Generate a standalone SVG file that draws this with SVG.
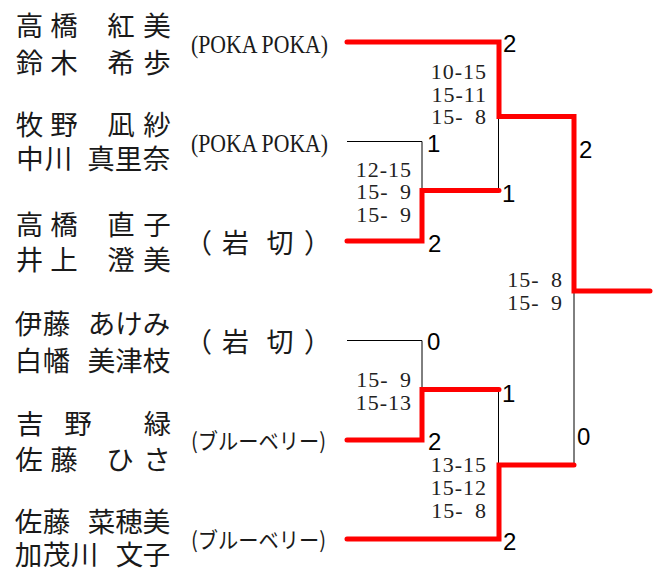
<svg xmlns="http://www.w3.org/2000/svg" width="661" height="573" viewBox="0 0 661 573">
<style>
.nm{font-family:"Noto Sans CJK JP","Noto Sans CJK SC",sans-serif;font-size:27.5px;fill:#1a1a1a;text-anchor:middle}
.tm{font-family:"Liberation Serif",serif;font-size:26px;fill:#1a1a1a}
.tk{font-family:"Noto Sans CJK JP",sans-serif;font-size:22px;fill:#1a1a1a}
.tj{font-family:"Noto Sans CJK JP",sans-serif;font-size:27px;fill:#1a1a1a}
.sc{font-family:"Liberation Serif",serif;font-size:22px;fill:#222;text-anchor:end;letter-spacing:1px}
.wn{font-family:"Liberation Sans",Arial,sans-serif;font-size:24px;fill:#000}
.red{fill:none;stroke:#ff0000;stroke-width:5;stroke-linecap:round;stroke-linejoin:miter}
.thin{fill:none;stroke:#000;stroke-width:1}
</style>
<rect width="661" height="573" fill="#fff"/>
<g id="connectors">
<path class="thin" d="M347 141.5H422V190.5"/>
<path class="thin" d="M498.5 190.5V116.5"/>
<path class="thin" d="M347 340.5H422V389.5"/>
<path class="thin" d="M498.5 389.5V465"/>
<path class="thin" d="M574 465V291"/>
<path class="red" d="M347 42H499V116.5H574V291H650"/>
<path class="red" d="M347 241H422V190.5H499"/>
<path class="red" d="M347 440H422V389.5H499"/>
<path class="red" d="M347 539H499V465H574"/>
</g>
<g id="pair1">
<text class="nm" x="29.5 64" y="35.5">高橋</text>
<text class="nm" x="121 157" y="35.5">紅美</text>
<text class="nm" x="29.5 64" y="72.5">鈴木</text>
<text class="nm" x="121 157" y="72.5">希歩</text>
<text class="tm" x="191" y="52.5" textLength="137" lengthAdjust="spacingAndGlyphs">(POKA POKA)</text>
</g>
<g id="pair2">
<text class="nm" x="29.5 64" y="135">牧野</text>
<text class="nm" x="121 157" y="135">凪紗</text>
<text class="nm" x="30 58.5" y="169">中川</text>
<text class="nm" x="101 128.5 156.5" y="169">真里奈</text>
<text class="tm" x="191" y="152" textLength="137" lengthAdjust="spacingAndGlyphs">(POKA POKA)</text>
</g>
<g id="pair3">
<text class="nm" x="29.5 64" y="234.5">高橋</text>
<text class="nm" x="121 157" y="234.5">直子</text>
<text class="nm" x="29.5 64" y="270">井上</text>
<text class="nm" x="121 157" y="270">澄美</text>
<text class="tj" x="185 208 222 251 266.5 294 304" y="252.5">（ 岩 切 ）</text>
</g>
<g id="pair4">
<text class="nm" x="28.5 56.5" y="334">伊藤</text>
<text class="nm" x="101.5 129 156.5" y="334">あけみ</text>
<text class="nm" x="28.5 56.5" y="371">白幡</text>
<text class="nm" x="101.5 129 156.5" y="371">美津枝</text>
<text class="tj" x="185 208 222 251 266.5 294 304" y="352">（ 岩 切 ）</text>
</g>
<g id="pair5">
<text class="nm" x="30 78" y="433.5">吉野</text>
<text class="nm" x="157.5" y="433.5">緑</text>
<text class="nm" x="29 64" y="470">佐藤</text>
<text class="nm" x="120 157" y="470">ひさ</text>
<text class="tk" x="191" y="449" textLength="135" lengthAdjust="spacingAndGlyphs">(ブルーベリー)</text>
</g>
<g id="pair6">
<text class="nm" x="28.5 56.5" y="532">佐藤</text>
<text class="nm" x="101.5 129 156.5" y="532">菜穂美</text>
<text class="nm" x="28.5 56.5 84.5" y="565">加茂川</text>
<text class="nm" x="129.5 156.5" y="565">文子</text>
<text class="tk" x="191" y="548" textLength="135" lengthAdjust="spacingAndGlyphs">(ブルーベリー)</text>
</g>
<g id="scores">
<text class="sc" x="487" y="79">10-15</text>
<text class="sc" x="487" y="101.5">15-11</text>
<text class="sc" x="487" y="124" xml:space="preserve">15- <tspan dx="5">8</tspan></text>
<text class="sc" x="412" y="177">12-15</text>
<text class="sc" x="412" y="199" xml:space="preserve">15- <tspan dx="5">9</tspan></text>
<text class="sc" x="412" y="221.5" xml:space="preserve">15- <tspan dx="5">9</tspan></text>
<text class="sc" x="563" y="287" xml:space="preserve">15- <tspan dx="5">8</tspan></text>
<text class="sc" x="563" y="310" xml:space="preserve">15- <tspan dx="5">9</tspan></text>
<text class="sc" x="412" y="387" xml:space="preserve">15- <tspan dx="5">9</tspan></text>
<text class="sc" x="412" y="409.5">15-13</text>
<text class="sc" x="487" y="472">13-15</text>
<text class="sc" x="487" y="495">15-12</text>
<text class="sc" x="487" y="517.5" xml:space="preserve">15- <tspan dx="5">8</tspan></text>
</g>
<g id="results">
<text class="wn" x="503" y="52">2</text>
<text class="wn" x="427" y="152">1</text>
<text class="wn" x="502" y="202">1</text>
<text class="wn" x="428" y="252">2</text>
<text class="wn" x="579" y="158">2</text>
<text class="wn" x="427" y="350">0</text>
<text class="wn" x="502" y="402">1</text>
<text class="wn" x="428" y="450">2</text>
<text class="wn" x="577" y="445">0</text>
<text class="wn" x="503" y="550">2</text>
</g>
</svg>
